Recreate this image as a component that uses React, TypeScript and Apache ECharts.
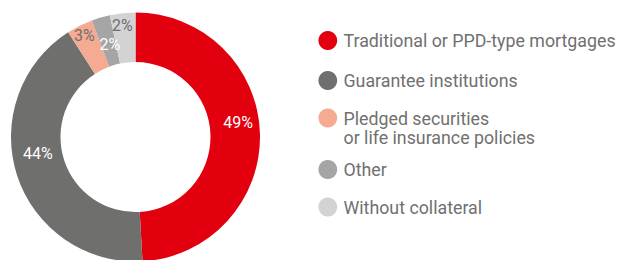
import React, { useEffect, useRef } from "react";
import * as echarts from "echarts";

// Data
const CATEGORIES = [
  "Traditional or PPD-type mortgages",
  "Guarantee institutions",
  "Pledged securities\nor life insurance policies",
  "Other",
  "Without collateral",
];
const SHARES = [49.1, 41.8, 3.4, 2.4, 3.3];
const SHARE_LABELS = ["49%", "44%", "3%", "2%", "2%"];

// Styling
const COLORS = ["#e2000f", "#6f6f6e", "#f5ab92", "#a4a5a4", "#d3d3d3"];
const LABEL_COLORS = ["#ffffff", "#ffffff", "#6f6f6e", "#ffffff", "#6f6f6e"];
const LABEL_NUDGE: [number, number][] = [
  [0, -12],
  [0, -15.5],
  [-5, -10],
  [3, 6],
  [-2.5, -9.5],
];
const LEGEND_ROW_Y = [40.5, 80.5, 118, 169.5, 207];
const TEXT_GREY = "#707070";
const FONT = "Roboto, 'Noto Sans', sans-serif";

export default function App() {
  const ref = useRef<HTMLDivElement>(null);

  useEffect(() => {
    document.body.style.margin = "0";
    if (!ref.current) return;
    const chart = echarts.init(ref.current, undefined, { renderer: "svg" });

    const lineH = 19.3;
    const fs = 17.8;
    const legendGraphics: any[] = [];
    CATEGORIES.forEach((name, i) => {
      const y = LEGEND_ROW_Y[i];
      legendGraphics.push({
        type: "circle",
        shape: { cx: 327.8, cy: y, r: 9.4 },
        style: { fill: COLORS[i] },
      });
      legendGraphics.push({
        type: "text",
        x: 343.5,
        y: y - lineH / 2,
        style: {
          text: name,
          fill: TEXT_GREY,
          font: `${fs}px ${FONT}`,
          fontSize: fs,
          fontFamily: FONT,
          lineHeight: lineH,
          verticalAlign: "top",
          align: "left",
        },
      });
    });

    chart.setOption({
      animation: false,
      legend: { show: false },
      graphic: legendGraphics,
      series: [
        {
          type: "pie",
          center: [135.5, 137],
          radius: [75, 124.5],
          startAngle: 90,
          clockwise: true,
          avoidLabelOverlap: false,
          label: {
            show: true,
            position: "inside",
            fontFamily: FONT,
            fontSize: 16,
            formatter: (p: any) => SHARE_LABELS[p.dataIndex],
          },
          labelLine: { show: false },
          labelLayout: (p: any) => ({
            dx: LABEL_NUDGE[p.dataIndex][0],
            dy: LABEL_NUDGE[p.dataIndex][1],
          }),
          emphasis: { disabled: true },
          data: CATEGORIES.map((name, i) => ({
            name,
            value: SHARES[i],
            itemStyle: { color: COLORS[i] },
            label: { color: LABEL_COLORS[i] },
          })),
        },
      ],
    });

    return () => chart.dispose();
  }, []);

  return <div ref={ref} style={{ width: 627, height: 260 }} />;
}
